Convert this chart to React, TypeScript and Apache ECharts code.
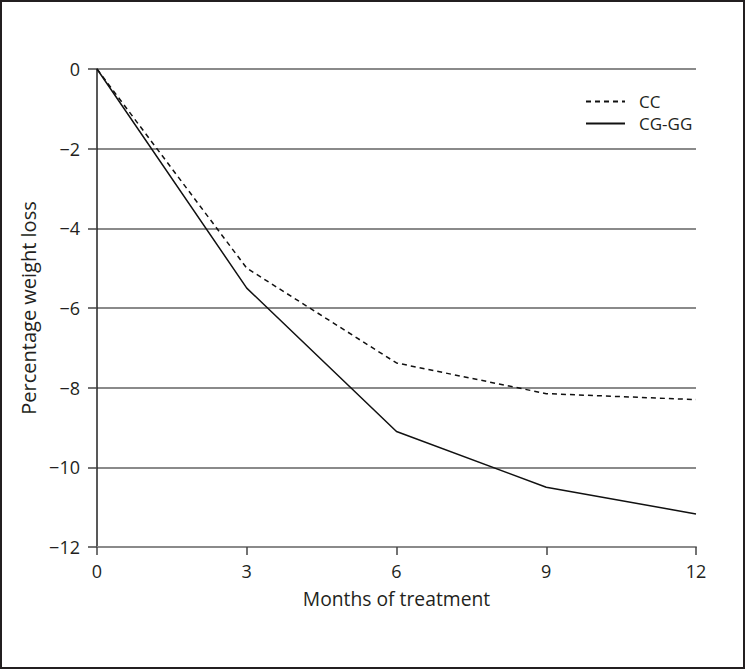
import React, { useEffect, useRef } from "react";
import * as echarts from "echarts";

const months = [0, 3, 6, 9, 12];
const ccValues = [0, -5.0, -7.38, -8.15, -8.3];
const cgggValues = [0, -5.5, -9.1, -10.5, -11.17];
const seriesNames = ["CC", "CG-GG"];
const xAxisTitle = "Months of treatment";
const yAxisTitle = "Percentage weight loss";

const FONT = "'Open Sans', 'Noto Sans', sans-serif";
const TEXT = "#231f20";
const GRID = "#8a8a8a";

export default function App() {
  const ref = useRef<HTMLDivElement>(null);
  useEffect(() => {
    if (!ref.current) return;
    const chart = echarts.init(ref.current, null, { renderer: "svg" });
    const minus = (v: number) => String(v).replace("-", "\u2212");
    chart.setOption({
      animation: false,
      backgroundColor: "#ffffff",
      textStyle: { fontFamily: FONT },
      graphic: [
        {
          type: "rect",
          shape: { x: 1, y: 1, width: 743, height: 667 },
          style: { fill: "none", stroke: TEXT, lineWidth: 2 },
        },
      ],
      grid: { left: 97, right: 49, top: 69, bottom: 122, containLabel: false },
      legend: {
        orient: "vertical",
        left: 580,
        top: 88,
        itemWidth: 39,
        itemHeight: 16,
        itemGap: 5,
        itemStyle: { opacity: 0, borderWidth: 0 },
        textStyle: { fontFamily: FONT, fontSize: 17, color: TEXT, lineHeight: 17, padding: [0, 0, 0, 9] },
        data: seriesNames,
      },
      xAxis: {
        type: "value",
        min: 0,
        max: 12,
        interval: 3,
        name: xAxisTitle,
        nameLocation: "middle",
        nameGap: 42,
        nameTextStyle: { fontFamily: FONT, fontSize: 19.3, color: TEXT },
        axisLine: { show: true, onZero: false, lineStyle: { color: GRID, width: 2 } },
        axisTick: { show: true, length: 8, lineStyle: { color: "#444", width: 1.5 } },
        axisLabel: { fontFamily: FONT, fontSize: 18, color: TEXT, margin: 15 },
        splitLine: { show: false },
      },
      yAxis: {
        type: "value",
        min: -12,
        max: 0,
        interval: 2,
        name: yAxisTitle,
        nameLocation: "middle",
        nameGap: 54,
        nameRotate: 90,
        nameTextStyle: { fontFamily: FONT, fontSize: 20, color: TEXT },
        axisLine: { show: true, onZero: false, lineStyle: { color: "#222", width: 1.5 } },
        axisTick: { show: true, length: 9, lineStyle: { color: "#444", width: 1.5 } },
        axisLabel: { fontFamily: FONT, fontSize: 18, color: TEXT, margin: 17, formatter: minus },
        splitLine: { show: true, lineStyle: { color: GRID, width: 2 } },
      },
      series: [
        {
          name: seriesNames[0],
          type: "line",
          data: months.map((m, i) => [m, ccValues[i]]),
          symbol: "none",
          lineStyle: { color: "#111", width: 1.5, type: [5, 4] },
          itemStyle: { color: "#111" },
        },
        {
          name: seriesNames[1],
          type: "line",
          data: months.map((m, i) => [m, cgggValues[i]]),
          symbol: "none",
          lineStyle: { color: "#111", width: 1.5 },
          itemStyle: { color: "#111" },
        },
      ],
    });
    return () => chart.dispose();
  }, []);
  return (
    <div
      ref={ref}
      style={{ position: "fixed", left: 0, top: 0, width: 745, height: 669 }}
    />
  );
}
